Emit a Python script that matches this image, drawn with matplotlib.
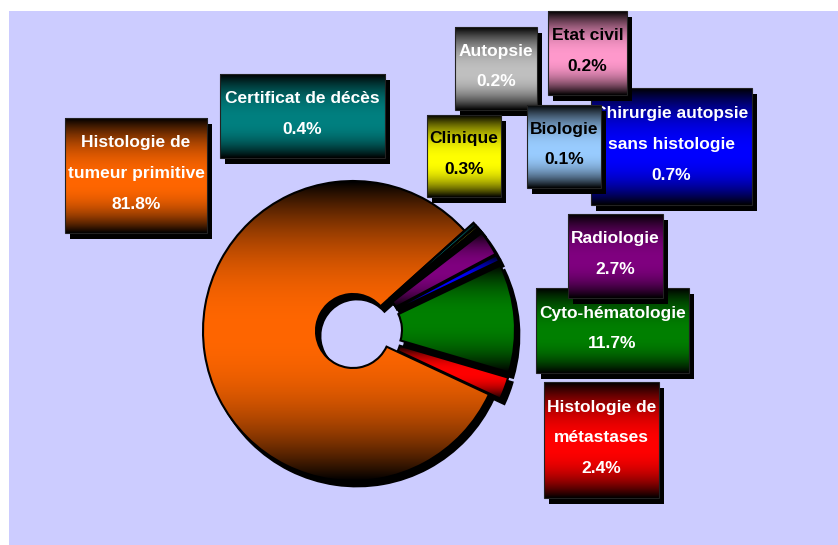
import matplotlib
matplotlib.use("Agg")
import matplotlib.pyplot as plt
import numpy as np
from matplotlib.patches import Rectangle
from matplotlib.colors import to_rgb

W, H = 838, 545

# pie order, counter-clockwise from the lower right
labels = ["Histologie de\nmétastases", "Cyto-hématologie", "Chirurgie autopsie\nsans histologie",
          "Radiologie", "Biologie", "Etat civil", "Autopsie", "Clinique",
          "Certificat de décès", "Histologie de\ntumeur primitive"]
values = [2.4, 11.7, 0.7, 2.7, 0.1, 0.2, 0.2, 0.3, 0.4, 81.8]
colors = ["#FF0000", "#008000", "#0000FF", "#800080", "#99CCFF", "#FF99CC",
          "#C0C0C0", "#FFFF00", "#008080", "#FF6600"]
text_colors = ["white", "white", "white", "white", "black", "black",
               "white", "black", "white", "white"]

# label boxes, pixel coords (left, top, right, bottom)
boxes = [(544, 382, 659, 498), (536, 288, 689, 373), (591, 88, 752, 205),
         (568, 214, 663, 298), (527, 105, 601, 188), (548, 11, 627, 95),
         (455, 27, 537, 110), (427, 115, 501, 197), (220, 74, 385, 158),
         (65, 118, 207, 233)]
draw_order = [2, 5, 6, 4, 7, 8, 9, 1, 3, 0]

FONT = ["Liberation Sans Narrow", "Liberation Sans", "DejaVu Sans"]


def shade(c, peak=0.55, n=256):
    t = np.linspace(0, 1, n)
    u = np.where(t < peak, (peak - t) / peak, (t - peak) / (1 - peak))
    f = np.clip(1 - u ** 2.2, 0, 1)
    rgb = np.array(to_rgb(c))
    return (rgb[None, :] * f[:, None])[:, None, :]


fig = plt.figure(figsize=(W / 100, H / 100), dpi=100)
fig.patch.set_facecolor("white")
ax = fig.add_axes([0, 0, 1, 1])

ax.add_patch(Rectangle((9, 0), W - 9, H - 11, facecolor="#CCCCFF", edgecolor="none", zorder=0))

# donut
cx, cy = 353, H - 331
R, r = 150, 37
expl = [12] * 9 + [0]
start = -25

ax.pie(values, radius=R, center=(cx + 4, cy - 5), startangle=start, explode=expl,
       colors=["black"] * len(values),
       wedgeprops=dict(width=R - r, edgecolor="black", linewidth=2, zorder=2))
wedges, _ = ax.pie(values, radius=R, center=(cx, cy), startangle=start, explode=expl,
                   colors=colors, wedgeprops=dict(width=R - r, edgecolor="black", linewidth=1.5))
for w, c in zip(wedges, colors):
    bb = w.get_path().get_extents()
    im = ax.imshow(shade(c, peak=0.5), extent=[bb.x0, bb.x1, bb.y0, bb.y1],
                   aspect="auto", interpolation="bilinear", zorder=3)
    im.set_clip_path(w)
    w.set_facecolor("none")
    w.set_zorder(4)

# label boxes
z = 10
for i in draw_order:
    l, t, rr, b = boxes[i]
    bw, bh = rr - l, b - t
    ax.add_patch(Rectangle((l + 5, H - b - 6), bw, bh, facecolor="black", edgecolor="none", zorder=z))
    ax.imshow(shade(colors[i]), extent=[l, rr, H - b, H - t], aspect="auto",
              interpolation="bilinear", zorder=z + 1)
    ax.add_patch(Rectangle((l, H - b), bw, bh, facecolor="none", edgecolor="#222222",
                           linewidth=0.8, zorder=z + 2))
    ax.text((l + rr) / 2, H - (t + b) / 2 + 2, f"{labels[i]}\n{values[i]:.1f}%",
            ha="center", va="center", color=text_colors[i], fontsize=12.5,
            fontweight="bold", family=FONT, linespacing=2.3, zorder=z + 3)
    z += 5

ax.set_xlim(0, W)
ax.set_ylim(0, H)
ax.set_aspect("auto")
ax.axis("off")

fig.savefig("out.png", dpi=100, facecolor=fig.get_facecolor())
